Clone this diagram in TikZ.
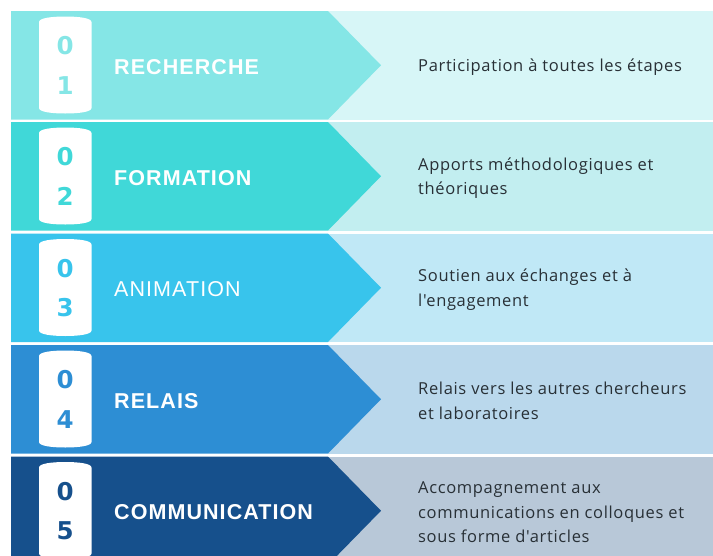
\documentclass[tikz,border=0pt]{standalone}
\usepackage{fontspec}
\newfontfamily\labfont{Liberation Sans}[LetterSpace=5]
\newfontfamily\digfont{DejaVu Sans}
\newfontfamily\descfont{Open Sans}[LetterSpace=4]
\definecolor{a1}{RGB}{133,230,230}\definecolor{b1}{RGB}{215,246,247}
\definecolor{a2}{RGB}{64,216,216}\definecolor{b2}{RGB}{194,238,240}
\definecolor{a3}{RGB}{56,196,236}\definecolor{b3}{RGB}{192,232,246}
\definecolor{a4}{RGB}{45,142,212}\definecolor{b4}{RGB}{186,216,236}
\definecolor{a5}{RGB}{22,80,140}\definecolor{b5}{RGB}{184,200,216}
\definecolor{desctext}{RGB}{40,48,54}
\tikzset{
  digit/.style={inner sep=0pt,font=\digfont\bfseries\fontsize{24.5}{24.5}\selectfont},
  lab/.style={inner sep=0pt,anchor=west,text=white},
  desc/.style={inner sep=0pt,anchor=west,align=left,text=desctext,font=\descfont\fontsize{16.5}{24.5}\selectfont},
}
\newcommand{\rowband}[7]{%
  \fill[#4] (328,#2) rectangle (713,#2+108.5);
  \fill[#3] (11,#2) -- (328,#2) -- (381,#2+54.25) -- (328,#2+108.5) -- (11,#2+108.5) -- cycle;
  \fill[white] (39,#2+97) -- (39,#2+11) .. controls (39,#2+7) and (52,#2+5.5) .. (65.2,#2+5.5)
     .. controls (78.5,#2+5.5) and (91.5,#2+7) .. (91.5,#2+11) -- (91.5,#2+97)
     .. controls (91.5,#2+101) and (78.5,#2+102.5) .. (65.2,#2+102.5)
     .. controls (52,#2+102.5) and (39,#2+101) .. (39,#2+97) -- cycle;
  \node[digit,text=#3] (da#1) at (65.2,#2+35) {0};
  \node[digit,text=#3] (db#1) at (65.2,#2+74.5) {#1};
  \node[lab,font=#5] (lab#1) at (114,#2+55.8) {#6};
  \node[desc] (desc#1) at (418,#2+56) {#7};
}
\begin{document}
\begin{tikzpicture}[x=1pt,y=-1pt]
\useasboundingbox (0,0) rectangle (713,555);
\fill[white] (0,0) rectangle (713,555);
\begin{scope}
\clip (0,0) rectangle (713,555);
\rowband{1}{11}{a1}{b1}{\labfont\bfseries\fontsize{21.5}{21.5}\selectfont}{RECHERCHE}{Participation à toutes les étapes}
\rowband{2}{122}{a2}{b2}{\labfont\bfseries\fontsize{21.5}{21.5}\selectfont}{FORMATION}{Apports méthodologiques et\\théoriques}
\rowband{3}{233.5}{a3}{b3}{\labfont\fontsize{21.5}{21.5}\selectfont}{ANIMATION}{Soutien aux échanges et à\\l'engagement}
\rowband{4}{345}{a4}{b4}{\labfont\bfseries\fontsize{21.5}{21.5}\selectfont}{RELAIS}{Relais vers les autres chercheurs\\et laboratoires}
\rowband{5}{456.5}{a5}{b5}{\labfont\bfseries\fontsize{21.5}{21.5}\selectfont}{COMMUNICATION}{Accompagnement aux\\communications en colloques et\\sous forme d'articles}
\end{scope}
\end{tikzpicture}
\end{document}
